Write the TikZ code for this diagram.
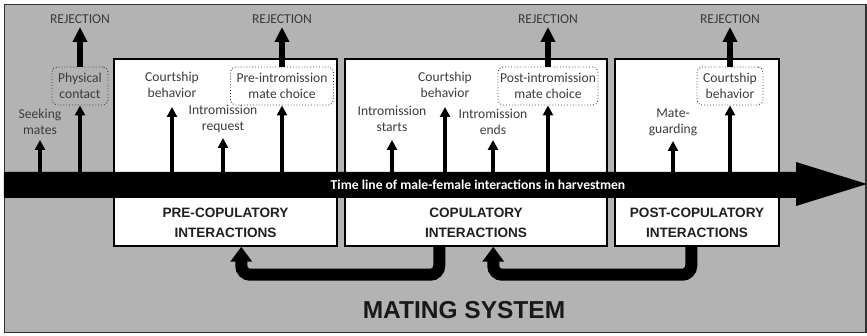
\documentclass[tikz,border=0pt]{standalone}
\usepackage{fontspec}
\setmainfont{Carlito}
\newfontfamily\arialf{Liberation Sans}
\usetikzlibrary{arrows.meta,calc}
\definecolor{bggray}{HTML}{B3B3B3}
\definecolor{txtgray}{HTML}{3C3C3C}
\definecolor{edgecol}{HTML}{303030}
\begin{document}
\begin{tikzpicture}[x=1pt,y=-1pt,
  lab/.style={text=txtgray, font=\fontsize{13.6}{16}\selectfont, align=center, inner xsep=1pt, inner ysep=5pt, anchor=south},
  choice/.style={text=txtgray, font=\fontsize{13.6}{16}\selectfont, align=center, draw=txtgray, dotted, line width=0.9pt, rounded corners=5pt, minimum height=38pt, inner sep=1pt},
  phase/.style={draw=black, line width=1.5pt, fill=white, minimum height=187pt, inner sep=0pt},
  phaselab/.style={font=\arialf\bfseries\fontsize{13.6}{19.5}\selectfont, align=center, text=black!88},
  rejlab/.style={text=txtgray, font=\fontsize{13.6}{16}\selectfont, inner ysep=3.5pt, anchor=south},
  thinarr/.style={line width=3.2pt, -{Triangle[length=10pt,width=10pt]}},
  rejarr/.style={line width=6.5pt, -{Triangle[length=15pt,width=14pt]}},
  backarr/.style={line width=12pt, rounded corners=9pt, -{Triangle[length=15pt,width=21pt]}},
]
\useasboundingbox (0,0) rectangle (867,336);
% background
\draw[fill=bggray, draw=edgecol, line width=1.5pt] (4.5,4.5) rectangle (866,332.5);

% phase boxes
\node[phase, minimum width=223pt] (pre) at (225.5,152.5) {};
\node[phase, minimum width=262pt] (cop) at (476,152.5) {};
\node[phase, minimum width=164pt] (post) at (697,152.5) {};

% time line
\fill[black] (3.75,172) -- (796,172) -- (796,162) -- (867,184) -- (796,206) -- (796,198) -- (3.75,198) -- cycle;
\node[font=\bfseries\fontsize{13.6}{16}\selectfont, text=white, inner sep=0pt] (tl) at (478,185) {Time line of male-female interactions in harvestmen};
\coordinate (tltop) at (0,172);

% phase labels
\node[phaselab] (prelab) at (225.5,223) {PRE-COPULATORY\\INTERACTIONS};
\node[phaselab] (coplab) at (476,223) {COPULATORY\\INTERACTIONS};
\node[phaselab] (postlab) at (697,223) {POST-COPULATORY\\INTERACTIONS};

% event labels
\node[lab] (seek) at (40,140) {Seeking\\mates};
\node[choice, minimum width=56pt] (phys) at (80,86) {Physical\\contact};
\node[rejlab] (rej1) at (80,27) {REJECTION};

\node[lab, inner ysep=9pt] (court1) at (172,107) {Courtship\\behavior};
\node[lab] (introreq) at (223,138) {Intromission\\request};
\node[choice, minimum width=103pt] (prechoice) at (282,86) {Pre-intromission\\mate choice};
\node[rejlab] (rej2) at (282,27) {REJECTION};

\node[lab, inner ysep=8pt] (introstart) at (392,140) {Intromission\\starts};
\node[lab, inner ysep=9pt] (court2) at (445,107) {Courtship\\behavior};
\node[lab] (introend) at (493,140) {Intromission\\ends};
\node[choice, minimum width=100pt] (postchoice) at (548,86) {Post-intromission\\mate choice};
\node[rejlab] (rej3) at (548,27) {REJECTION};

\node[lab] (mateguard) at (673,141) {Mate-\\guarding};
\node[choice, minimum width=66pt] (court3) at (730,86) {Courtship\\behavior};
\node[rejlab] (rej4) at (730,27) {REJECTION};

% thin arrows from the time line
\foreach \n in {seek,phys,court1,introreq,prechoice,introstart,court2,introend,postchoice,mateguard,court3}
  \draw[thinarr] (\n.south |- tltop) -- (\n.south);

% rejection arrows
\draw[rejarr] (phys.north) -- (rej1.south);
\draw[rejarr] (prechoice.north) -- (rej2.south);
\draw[rejarr] (postchoice.north) -- (rej3.south);
\draw[rejarr] (court3.north) -- (rej4.south);

% feedback arrows
\draw[backarr] ([xshift=95pt]cop.south west) -- ++(0,28) -| ([xshift=128pt]pre.south west);
\draw[backarr] ([xshift=77pt]post.south west) -- ++(0,28) -| ([xshift=149pt]cop.south west);

% title
\node[font=\arialf\bfseries\fontsize{24.5}{28}\selectfont, text=black!90] (title) at (464,310) {MATING SYSTEM};
\end{tikzpicture}
\end{document}
